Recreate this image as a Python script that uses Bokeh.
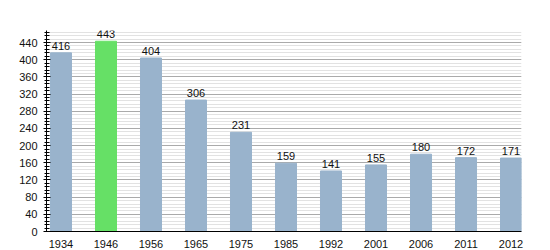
from bokeh.plotting import figure
from bokeh.models import ColumnDataSource, LabelSet, Range1d, FixedTicker, SingleIntervalTicker
from bokeh.core.properties import value
from bokeh.embed import file_html
from bokeh.resources import INLINE

years = ["1934", "1946", "1956", "1965", "1975", "1985", "1992", "2001", "2006", "2011", "2012"]
population = [416, 443, 404, 306, 231, 159, 141, 155, 180, 172, 171]
colors = ["#99b3cc", "#66e066", "#99b3cc", "#99b3cc", "#99b3cc", "#99b3cc",
          "#99b3cc", "#99b3cc", "#99b3cc", "#99b3cc", "#99b3cc"]

xs = list(range(len(years)))
src = ColumnDataSource(dict(x=xs, top=population, color=colors,
                            label=[str(v) for v in population]))

p = figure(width=550, height=250, output_backend="svg", toolbar_location=None,
           x_range=Range1d(-0.322, 10.233), y_range=Range1d(0, 468),
           min_border_left=46, min_border_right=29, min_border_top=30, min_border_bottom=18)
p.outline_line_color = None
p.background_fill_color = "white"
p.border_fill_color = "white"

p.vbar(x="x", top="top", width=0.467, bottom=0, color="color", source=src)

labels = LabelSet(x="x", y="top", text="label", source=src, text_align="center",
                  text_baseline="bottom", y_offset=3, text_font_size=value("11px"),
                  text_font=value("Liberation Sans"), text_color=value("#111111"))
p.add_layout(labels)

# y axis
p.yaxis.ticker = SingleIntervalTicker(interval=40, num_minor_ticks=5)
p.yaxis.axis_line_color = "black"
p.yaxis.major_tick_line_color = "black"
p.yaxis.minor_tick_line_color = "black"
p.yaxis.major_tick_in = 4
p.yaxis.major_tick_out = 3
p.yaxis.minor_tick_in = 3
p.yaxis.minor_tick_out = 2
p.yaxis.major_label_text_font = "Liberation Sans"
p.yaxis.major_label_text_font_size = "11px"
p.yaxis.major_label_text_color = "#111111"
p.yaxis.major_label_standoff = 6

# x axis
p.xaxis.ticker = FixedTicker(ticks=xs)
p.xaxis.major_label_overrides = {i: y for i, y in enumerate(years)}
p.xaxis.axis_line_color = "black"
p.xaxis.major_tick_line_color = None
p.xaxis.minor_tick_line_color = None
p.xaxis.major_label_text_font = "Liberation Sans"
p.xaxis.major_label_text_font_size = "11px"
p.xaxis.major_label_text_color = "#111111"
p.xaxis.major_label_standoff = 2

p.xgrid.grid_line_color = None
p.ygrid.grid_line_color = "#aaaaaa"
p.ygrid.minor_grid_line_color = "#e2e2e2"
p.ygrid.level = "underlay"

open("out.html", "w").write(file_html(p, INLINE))
